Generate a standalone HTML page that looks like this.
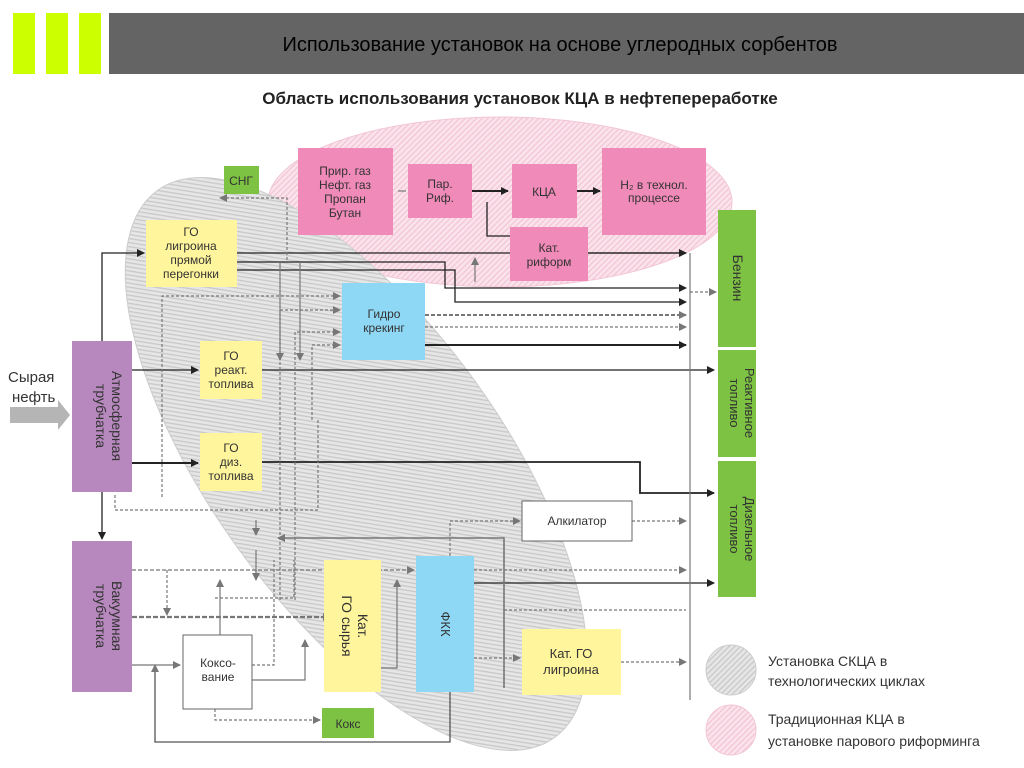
<!DOCTYPE html>
<html><head><meta charset="utf-8"><style>
html,body{margin:0;padding:0;background:#fff;width:1024px;height:768px;overflow:hidden;}
svg{display:block;font-family:"Liberation Sans","DejaVu Sans",sans-serif;}
</style></head><body>
<svg width="1024" height="768" viewBox="0 0 1024 768" xmlns="http://www.w3.org/2000/svg">
<defs>
<pattern id="hg" width="4" height="4" patternUnits="userSpaceOnUse" patternTransform="rotate(45)">
<rect width="4" height="4" fill="#e6e6e6"/><rect width="1.3" height="4" fill="#c8c8c8"/></pattern>
<pattern id="hp" width="4" height="4" patternUnits="userSpaceOnUse" patternTransform="rotate(45)">
<rect width="4" height="4" fill="#fbe3ec"/><rect width="1.3" height="4" fill="#f2c6d6"/></pattern>
<marker id="a" markerWidth="8" markerHeight="8" refX="7" refY="4" orient="auto" markerUnits="userSpaceOnUse"><path d="M0,0L8,4L0,8z" fill="#222"/></marker>
<marker id="g" markerWidth="8" markerHeight="8" refX="7" refY="4" orient="auto" markerUnits="userSpaceOnUse"><path d="M0,0L8,4L0,8z" fill="#777"/></marker>
</defs>
<rect x="13" y="13" width="22" height="61" fill="#ccff00"/>
<rect x="46" y="13" width="22" height="61" fill="#ccff00"/>
<rect x="79" y="13" width="22" height="61" fill="#ccff00"/>
<rect x="109" y="13" width="915" height="61" fill="#646464"/>
<text x="560" y="51" font-size="20" text-anchor="middle" fill="#000">Использование установок на основе углеродных сорбентов</text>
<text x="520" y="104" font-size="17" font-weight="bold" text-anchor="middle" fill="#222">Область использования установок КЦА в нефтепереработке</text>
<ellipse cx="500" cy="202" rx="232" ry="85" fill="url(#hp)" stroke="#f2c6d6"/>
<ellipse cx="356" cy="464" rx="338" ry="145" transform="rotate(54 356 464)" fill="url(#hg)" stroke="#ccc"/>
<g fill="none" stroke="#222" stroke-width="1.3">
<path d="M102 341V253H144" marker-end="url(#a)"/>
<path d="M102 492V539" marker-end="url(#a)"/>
<path d="M237 253H686" marker-end="url(#a)"/>
<path d="M237 270H455V302H686" marker-end="url(#a)"/>
<path d="M237 262H445V288H686" marker-end="url(#a)"/>
<path d="M472 191H508" stroke-width="2" marker-end="url(#a)"/>
<path d="M577 191H600" stroke-width="2" marker-end="url(#a)"/>
<path d="M510 236H487V202"/>
<path d="M588 253H686"/>
<path d="M132 370H198" marker-end="url(#a)"/>
<path d="M262 370H714" marker-end="url(#a)"/>
<path d="M132 463H198" stroke-width="2" marker-end="url(#a)"/>
<path d="M262 462H640V493H714" stroke-width="1.8" marker-end="url(#a)"/>
<path d="M425 345H686" stroke-width="2" marker-end="url(#a)"/>
<path d="M474 583H714" marker-end="url(#a)"/>
<path d="M450 692V742H155V665" stroke="#555" marker-end="url(#g)"/>
</g>
<g fill="none" stroke="#777" stroke-width="1.2">
<path d="M398 191H406"/>
<path d="M690 253V700"/>
<path d="M475 282V258" marker-end="url(#g)"/>
<path d="M287 260V198H220" stroke-dasharray="3,2" marker-end="url(#g)"/>
<path d="M425 315H686" stroke-dasharray="4,2" stroke-width="2" marker-end="url(#g)"/>
<path d="M425 327H686" stroke-dasharray="3,2" marker-end="url(#g)"/>
<path d="M690 292H716" stroke-dasharray="3,2" marker-end="url(#g)"/>
<path d="M162 497V296H340" stroke-dasharray="3,2" marker-end="url(#g)"/>
<path d="M280 600V310H340" stroke-dasharray="3,2" marker-end="url(#g)"/>
<path d="M295 600V332H340" stroke-dasharray="3,2" marker-end="url(#g)"/>
<path d="M312 420V345H340" stroke-dasharray="3,2" marker-end="url(#g)"/>
<path d="M280 262V360" marker-end="url(#g)"/>
<path d="M300 262V360" marker-end="url(#g)"/>
<path d="M115 495V510H318V420" stroke-dasharray="3,2"/>
<path d="M450 556V521H520" stroke-dasharray="3,2" marker-end="url(#g)"/>
<path d="M632 521H686" stroke-dasharray="3,2" marker-end="url(#g)"/>
<path d="M504 610H686" stroke-dasharray="3,2"/>
<path d="M504 688V538H278" stroke-width="1.6" marker-end="url(#g)"/>
<path d="M132 570H414" stroke-dasharray="4,2" marker-end="url(#g)"/>
<path d="M474 570H686" stroke-dasharray="3,2" marker-end="url(#g)"/>
<path d="M167 570V615" stroke-dasharray="3,2" marker-end="url(#g)"/>
<path d="M132 617H330" stroke-width="2.2" stroke-dasharray="5,2" marker-end="url(#g)"/>
<path d="M256 520V535" marker-end="url(#g)"/>
<path d="M256 550V580" marker-end="url(#g)"/>
<path d="M220 635V580" marker-end="url(#g)"/>
<path d="M252 665H274V560" stroke-dasharray="3,2"/>
<path d="M252 680H305V640" marker-end="url(#g)"/>
<path d="M215 598H294V560" stroke-dasharray="3,2"/>
<path d="M381 668H397V580" marker-end="url(#g)"/>
<path d="M474 658H520" stroke-dasharray="3,2" marker-end="url(#g)"/>
<path d="M621 662H686" stroke-dasharray="3,2" marker-end="url(#g)"/>
<path d="M132 665H180" marker-end="url(#g)"/>
<path d="M215 709V720H320" stroke-dasharray="3,2" marker-end="url(#g)"/>
</g>
<path d="M10 407H58V400L70 415L58 430V423H10z" fill="#b5b5b5"/>
<text x="8" y="382" font-size="15" fill="#333">Сырая</text>
<text x="12" y="402" font-size="15" fill="#333">нефть</text>
<g font-size="12" fill="#333" text-anchor="middle">
<rect x="224" y="166" width="35" height="28" fill="#7dc242"/><text x="241" y="185">СНГ</text>
<rect x="298" y="148" width="95" height="87" fill="#f08ab8"/>
<text x="345" y="175">Прир. газ</text><text x="345" y="189">Нефт. газ</text><text x="345" y="203">Пропан</text><text x="345" y="217">Бутан</text>
<rect x="408" y="164" width="64" height="54" fill="#f08ab8"/><text x="440" y="188">Пар.</text><text x="440" y="202">Риф.</text>
<rect x="512" y="164" width="65" height="54" fill="#f08ab8"/><text x="544" y="196">КЦА</text>
<rect x="602" y="148" width="104" height="87" fill="#f08ab8"/><text x="654" y="189">H₂ в технол.</text><text x="654" y="202">процессе</text>
<rect x="510" y="227" width="78" height="54" fill="#f08ab8"/><text x="549" y="252">Кат.</text><text x="549" y="266">риформ</text>
<rect x="146" y="220" width="91" height="67" fill="#fff59d"/>
<text x="191" y="236">ГО</text><text x="191" y="250">лигроина</text><text x="191" y="264">прямой</text><text x="191" y="278">перегонки</text>
<rect x="342" y="283" width="83" height="77" fill="#8fd8f5"/><text x="384" y="318">Гидро</text><text x="384" y="332">крекинг</text>
<rect x="200" y="341" width="62" height="58" fill="#fff59d"/><text x="231" y="360">ГО</text><text x="231" y="374">реакт.</text><text x="231" y="388">топлива</text>
<rect x="200" y="433" width="62" height="58" fill="#fff59d"/><text x="231" y="452">ГО</text><text x="231" y="466">диз.</text><text x="231" y="480">топлива</text>
<rect x="522" y="501" width="110" height="40" fill="#fff" stroke="#666"/><text x="577" y="525">Алкилатор</text>
<rect x="183" y="635" width="69" height="74" fill="#fff" stroke="#666"/><text x="218" y="667">Коксо-</text><text x="218" y="681">вание</text>
<rect x="522" y="629" width="99" height="66" fill="#fff59d"/><text x="571" y="658" font-size="13">Кат. ГО</text><text x="571" y="674" font-size="13">лигроина</text>
<rect x="322" y="708" width="52" height="30" fill="#7dc242"/><text x="348" y="728">Кокс</text>
<rect x="324" y="560" width="57" height="132" fill="#fff59d"/>
<text transform="translate(358 626) rotate(90)" font-size="14">Кат.</text>
<text transform="translate(342 626) rotate(90)" font-size="14">ГО сырья</text>
<rect x="416" y="556" width="58" height="136" fill="#8fd8f5"/>
<text transform="translate(441 624) rotate(90)" font-size="13">ФКК</text>
<rect x="72" y="341" width="60" height="151" fill="#b788bd"/>
<text transform="translate(112 416) rotate(90)" font-size="14">Атмосферная</text>
<text transform="translate(96 416) rotate(90)" font-size="14">трубчатка</text>
<rect x="72" y="541" width="60" height="151" fill="#b788bd"/>
<text transform="translate(112 616) rotate(90)" font-size="14">Вакуумная</text>
<text transform="translate(96 616) rotate(90)" font-size="14">трубчатка</text>
<rect x="718" y="210" width="38" height="137" fill="#7dc242"/>
<text transform="translate(733 278) rotate(90)" font-size="14">Бензин</text>
<rect x="718" y="350" width="38" height="107" fill="#7dc242"/>
<text transform="translate(745 403) rotate(90)" font-size="13">Реактивное</text>
<text transform="translate(730 403) rotate(90)" font-size="13">топливо</text>
<rect x="718" y="461" width="38" height="136" fill="#7dc242"/>
<text transform="translate(745 529) rotate(90)" font-size="13">Дизельное</text>
<text transform="translate(730 529) rotate(90)" font-size="13">топливо</text>
</g>
<ellipse cx="731" cy="670" rx="25" ry="25" fill="url(#hg)" stroke="#ccc"/>
<ellipse cx="731" cy="730" rx="25" ry="25" fill="url(#hp)" stroke="#f2c6d6"/>
<g font-size="14" fill="#333">
<text x="768" y="666">Установка СКЦА в</text>
<text x="768" y="686">технологических циклах</text>
<text x="768" y="724">Традиционная КЦА в</text>
<text x="768" y="746">установке парового риформинга</text>
</g>
</svg>
</body></html>
